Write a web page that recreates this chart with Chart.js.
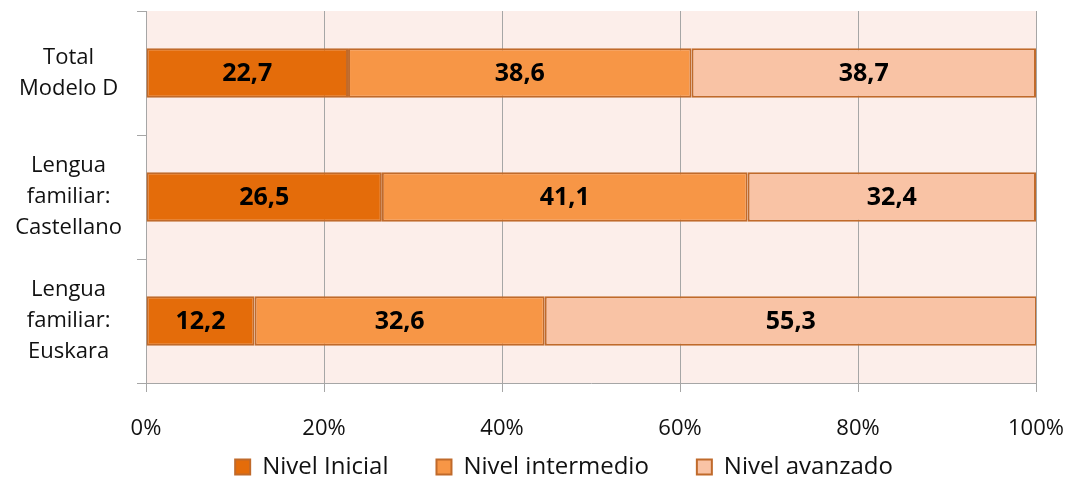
<!DOCTYPE html>
<html>
<head>
<meta charset="utf-8">
<script src="https://cdn.jsdelivr.net/npm/chart.js@4/dist/chart.umd.min.js"></script>
<style>
  html, body { margin: 0; padding: 0; background: #fff; }
</style>
</head>
<body>
<canvas id="nivelChart" width="1070" height="479"></canvas>
<script>
const categories = [
    ['Total', 'Modelo D'],
    ['Lengua', 'familiar:', 'Castellano'],
    ['Lengua', 'familiar:', 'Euskara']
];
const seriesNames = ['Nivel Inicial', 'Nivel intermedio', 'Nivel avanzado'];
const nivelInicial = [22.7, 26.5, 12.2];
const nivelIntermedio = [38.6, 41.1, 32.6];
const nivelAvanzado = [38.7, 32.4, 55.3];
const xTicks = [0, 20, 40, 60, 80, 100];

const colors = ['#E46C0A', '#F79646', '#F9C3A5'];
const edgeColor = '#C06A2B';
const gridColor = '#A6A6A6';

Chart.defaults.font.family = "'Open Sans', sans-serif";
Chart.defaults.color = '#111';

// fondo rosado del área de trazado
const plotBackground = {
    id: 'plotBackground',
    beforeDraw(chart) {
        const { ctx, chartArea } = chart;
        ctx.save();
        ctx.fillStyle = '#FCEEEA';
        ctx.fillRect(chartArea.left, chartArea.top, chartArea.right - chartArea.left, chartArea.bottom - chartArea.top);
        ctx.restore();
    }
};

// la leyenda usa padding grande para separar los items; ajustamos su caja
const legendShift = {
    id: 'legendShift',
    afterLayout(chart) {
        const lg = chart.legend;
        if (!lg) return;
        const up = 38, dx = 46;
        lg.top -= up;
        lg.height += up;
        lg.left += dx;
        lg.right += dx;
    }
};

// etiquetas de valor dentro de cada segmento
const valueLabels = {
    id: 'valueLabels',
    afterDatasetsDraw(chart) {
        const ctx = chart.ctx;
        ctx.save();
        ctx.font = "bold 25px 'Open Sans', sans-serif";
        ctx.fillStyle = '#000';
        ctx.textAlign = 'center';
        ctx.textBaseline = 'middle';
        chart.data.datasets.forEach((ds, i) => {
            chart.getDatasetMeta(i).data.forEach((bar, j) => {
                const p = bar.getCenterPoint();
                ctx.fillText(ds.data[j].toFixed(1).replace('.', ','), p.x, p.y + 1);
            });
        });
        ctx.restore();
    }
};

const makeSet = (label, data, color) => ({
    label: label,
    data: data,
    backgroundColor: color,
    borderColor: edgeColor,
    borderWidth: 2,
    borderSkipped: false,
    barPercentage: 0.4,
    categoryPercentage: 1
});

new Chart(document.getElementById('nivelChart'), {
    type: 'bar',
    data: {
        labels: categories,
        datasets: [
            makeSet(seriesNames[0], nivelInicial, colors[0]),
            makeSet(seriesNames[1], nivelIntermedio, colors[1]),
            makeSet(seriesNames[2], nivelAvanzado, colors[2])
        ]
    },
    options: {
        indexAxis: 'y',
        responsive: false,
        animation: false,
        devicePixelRatio: 1,
        layout: {
            padding: { top: 11, right: 34, left: 0, bottom: 0 }
        },
        scales: {
            x: {
                stacked: true,
                min: 0,
                max: 100,
                afterBuildTicks: scale => {
                    scale.ticks = xTicks.map(v => ({ value: v }));
                },
                afterFit: scale => {
                    scale.height = 62;
                    scale.paddingLeft = 0;
                    scale.paddingRight = 0;
                },
                grid: {
                    color: gridColor,
                    lineWidth: 1,
                    tickLength: 9
                },
                border: { display: true, color: gridColor },
                ticks: {
                    padding: 24,
                    font: { size: 22 },
                    callback: v => v + '%'
                }
            },
            y: {
                stacked: true,
                afterFit: scale => {
                    scale.width = 146;
                    scale.paddingTop = 0;
                    scale.paddingBottom = 0;
                },
                grid: {
                    offset: true,
                    drawOnChartArea: false,
                    color: gridColor,
                    tickLength: 9
                },
                border: { display: true, color: gridColor },
                ticks: {
                    crossAlign: 'center',
                    padding: 15,
                    font: { size: 22, lineHeight: 1.4 }
                }
            }
        },
        plugins: {
            legend: {
                position: 'bottom',
                maxHeight: 34,
                labels: {
                    boxWidth: 15,
                    boxHeight: 15,
                    padding: 48,
                    font: { size: 24 }
                }
            },
            tooltip: { enabled: false }
        }
    },
    plugins: [plotBackground, legendShift, valueLabels]
});
</script>
</body>
</html>
